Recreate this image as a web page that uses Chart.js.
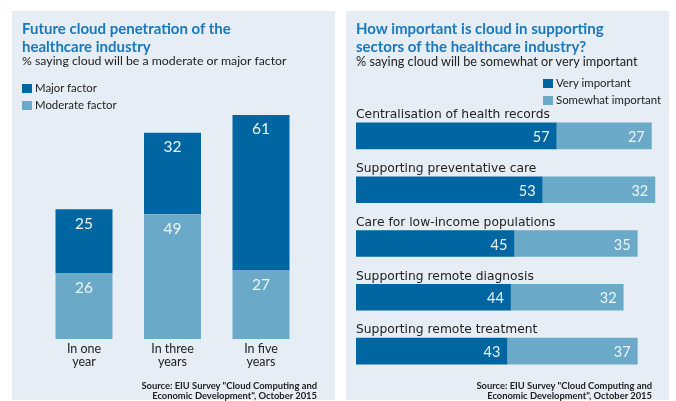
<!DOCTYPE html>
<html>
<head>
<meta charset="utf-8">
<script src="https://cdn.jsdelivr.net/npm/chart.js@4/dist/chart.umd.min.js"></script>
<style>
  body { margin: 0; width: 676px; height: 401px; background: #ffffff; font-family: Lato, sans-serif; position: relative; overflow: hidden; }
  .panel { position: absolute; top: 11px; width: 323px; height: 389px; background: #e6edf4; }
  #panelL { left: 12px; }
  #panelR { left: 346px; }
  .panel canvas { position: absolute; left: 0; top: 0; }
  .title { position: absolute; color: #1a78bb; font-weight: bold; font-size: 15px; line-height: 17.5px; white-space: nowrap; }
  .sub { position: absolute; color: #222; font-size: 12.3px; white-space: nowrap; }
  .leg { position: absolute; color: #222; font-size: 11.4px; white-space: nowrap; line-height: 17px; }
  .leg span.sw { display: inline-block; width: 10px; height: 9px; margin-right: 3px; vertical-align: -1px; }
  .src { position: absolute; color: #222; font-size: 9.4px; font-weight: bold; text-align: right; line-height: 10px; white-space: nowrap; }
</style>
</head>
<body>
<div class="panel" id="panelL">
  <canvas id="chartL" width="323" height="389"></canvas>
  <div class="title" style="left:10px; top:9px;">Future cloud penetration of the<br>healthcare industry</div>
  <div class="sub" style="left:10px; top:42px;">% saying cloud will be a moderate or major factor</div>
  <div class="leg" style="left:10px; top:68px;"><span class="sw" style="background:#0066a2"></span>Major factor<br><span class="sw" style="background:#6aaac8"></span>Moderate factor</div>
  <div class="src" style="right:18px; top:370px;">Source: EIU Survey "Cloud Computing and<br>Economic Development", October 2015</div>
</div>
<div class="panel" id="panelR">
  <canvas id="chartR" width="323" height="389"></canvas>
  <div class="title" style="left:10px; top:9px;">How important is cloud in supporting<br>sectors of the healthcare industry?</div>
  <div class="sub" style="left:10px; top:42px; font-size:12.7px;">% saying cloud will be somewhat or very important</div>
  <div class="leg" style="left:197px; top:63px;"><span class="sw" style="background:#0066a2"></span>Very important<br><span class="sw" style="background:#6aaac8"></span>Somewhat important</div>
  <div class="src" style="right:17px; top:370px;">Source: EIU Survey "Cloud Computing and<br>Economic Development", October 2015</div>
</div>

<script>
// left chart data
const horizons = [['In one', 'year'], ['In three', 'years'], ['In five', 'years']];
const majorFactor    = [25, 32, 61];
const moderateFactor = [26, 49, 27];

// right chart data
const sectors = [
    'Centralisation of health records',
    'Supporting preventative care',
    'Care for low-income populations',
    'Supporting remote diagnosis',
    'Supporting remote treatment'
];
const veryImportant     = [57, 53, 45, 44, 43];
const somewhatImportant = [27, 32, 35, 32, 37];

const DARK  = '#0066a2';
const LIGHT = '#6aaac8';

// white numbers inside the bars
const valueLabels = {
    id: 'valueLabels',
    afterDatasetsDraw(chart) {
        const ctx = chart.ctx;
        const horiz = chart.options.indexAxis === 'y';
        ctx.save();
        ctx.fillStyle = '#eef4f8';
        ctx.textBaseline = 'middle';
        chart.data.datasets.forEach((ds, i) => {
            chart.getDatasetMeta(i).data.forEach((el, j) => {
                const v = ds.data[j];
                if (horiz) {
                    ctx.font = '14.5px Lato, sans-serif';
                    ctx.textAlign = 'right';
                    ctx.fillText(v, el.x - 7, el.y + 1.5);
                } else {
                    ctx.font = '15.5px Lato, sans-serif';
                    ctx.textAlign = 'center';
                    ctx.fillText(v, el.x, el.y + 14.5);
                }
            });
        });
        ctx.restore();
    }
};

// sector names above each horizontal bar
const sectorLabels = {
    id: 'sectorLabels',
    afterDatasetsDraw(chart) {
        const ctx = chart.ctx;
        const meta = chart.getDatasetMeta(0);
        ctx.save();
        ctx.fillStyle = '#222';
        ctx.font = '12.3px "DejaVu Sans", sans-serif';
        ctx.textAlign = 'left';
        ctx.textBaseline = 'middle';
        meta.data.forEach((el, j) => {
            ctx.fillText(chart.data.labels[j], chart.chartArea.left, el.y - el.height / 2 - 7.5);
        });
        ctx.restore();
    }
};

new Chart(document.getElementById('chartL'), {
    type: 'bar',
    data: {
        labels: horizons,
        datasets: [
            { label: 'Moderate factor', data: moderateFactor, backgroundColor: LIGHT },
            { label: 'Major factor',    data: majorFactor,    backgroundColor: DARK }
        ]
    },
    options: {
        responsive: false,
        animation: false,
        layout: { padding: { left: 27.75, right: 29.75, top: 98.8, bottom: 0 } },
        datasets: { bar: { barPercentage: 0.644, categoryPercentage: 1 } },
        scales: {
            x: {
                stacked: true,
                grid: { display: false, drawTicks: false },
                border: { display: false },
                ticks: { color: '#222', font: { family: 'Lato', size: 12.5, lineHeight: 1.05 }, padding: 3, maxRotation: 0 },
                afterFit: s => { s.height = 60.7; }
            },
            y: { stacked: true, display: false, min: 0, max: 90 }
        },
        plugins: { legend: { display: false }, tooltip: { enabled: false } }
    },
    plugins: [valueLabels]
});

new Chart(document.getElementById('chartR'), {
    type: 'bar',
    data: {
        labels: sectors,
        datasets: [
            { label: 'Very important',     data: veryImportant,     backgroundColor: DARK },
            { label: 'Somewhat important', data: somewhatImportant, backgroundColor: LIGHT }
        ]
    },
    options: {
        indexAxis: 'y',
        responsive: false,
        animation: false,
        layout: { padding: { left: 10, right: 3.2, top: 98.1, bottom: 22.1 } },
        datasets: { bar: { barPercentage: 0.497, categoryPercentage: 1 } },
        scales: {
            x: { stacked: true, display: false, min: 0, max: 88 },
            y: { stacked: true, display: false }
        },
        plugins: { legend: { display: false }, tooltip: { enabled: false } }
    },
    plugins: [valueLabels, sectorLabels]
});
</script>
</body>
</html>
